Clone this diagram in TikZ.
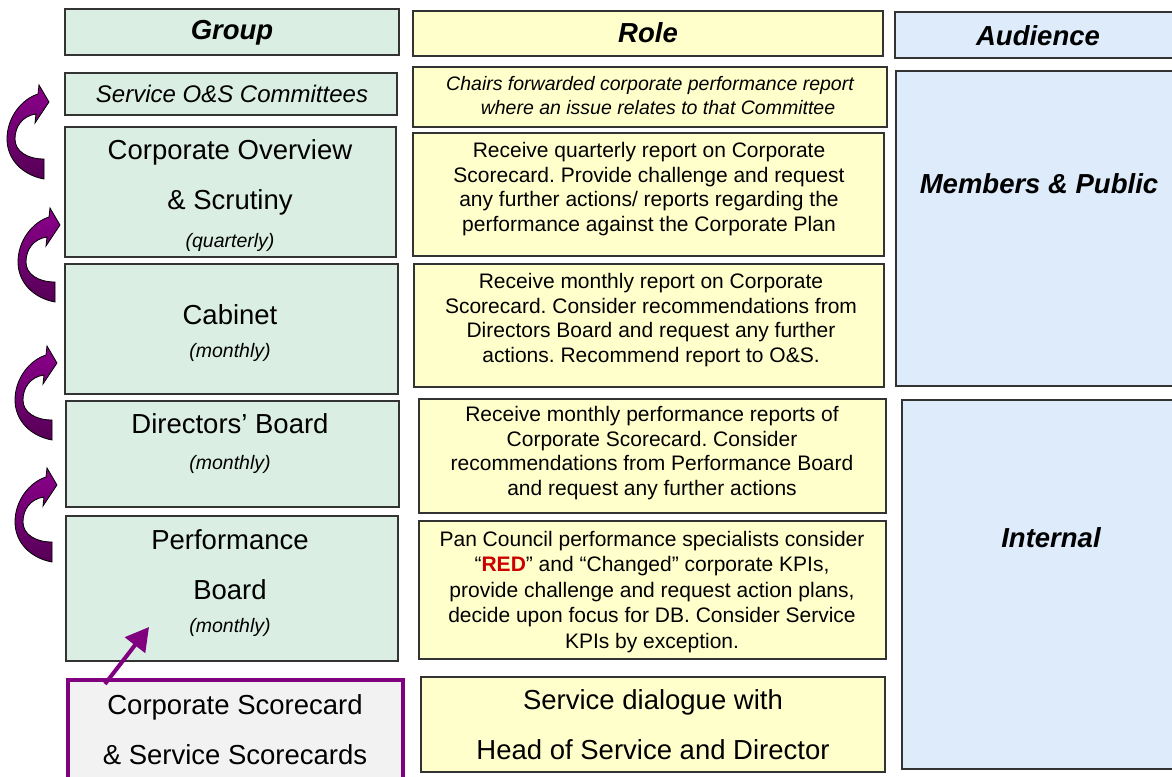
\documentclass[tikz,border=0pt]{standalone}
\usepackage{fontspec}
\setmainfont{Liberation Sans}
\usetikzlibrary{arrows.meta}
\definecolor{grpcol}{HTML}{DAEEE4}
\definecolor{rolecol}{HTML}{FFFFCC}
\definecolor{audcol}{HTML}{DDEBFB}
\definecolor{purp}{HTML}{800080}
\definecolor{arrtop}{HTML}{8C008C}
\definecolor{arrbot}{HTML}{560056}
\definecolor{redtxt}{HTML}{CC0000}
\definecolor{cardfill}{HTML}{F2F2F2}
\frenchspacing
\newcommand\mybox[6]{\node[#2, minimum width={(#5-#3)*1pt}, minimum height={(#6-#4)*1pt}] (#1) at (#3,#4) {};}
\tikzset{
  box/.style={rectangle, draw=black!80, line width=1.3pt, anchor=north west, inner sep=0pt, outer sep=0pt},
  grp/.style={box, fill=grpcol},
  rolebox/.style={box, fill=rolecol},
  aud/.style={box, fill=audcol},
  card/.style={box, draw=purp, line width=3.5pt, fill=cardfill},
  hdr/.style={font=\fontsize{27.5}{33}\selectfont\bfseries\itshape, inner sep=0pt},
  big/.style={font=\fontsize{27.5}{33}\selectfont, inner sep=0pt},
  small/.style={font=\fontsize{19.5}{23}\selectfont\itshape, inner sep=0pt},
  rtext/.style={font=\fontsize{21}{24.6}\selectfont, inner sep=0pt, align=center},
  ritext/.style={font=\fontsize{19.5}{24}\selectfont\itshape, inner sep=0pt, align=center},
  purparrow/.style={draw=purp, line width=4pt, -{Triangle[length=23pt,width=25pt]}},
  curvarr/.pic={
    \path[draw=black, line width=0.8pt, top color=arrtop, bottom color=arrbot]
      (-5,77) .. controls (-27,73) and (-42,57) .. (-42,37)
      .. controls (-42,15) and (-27,-3) .. (-11,-8)
      -- (-10,-17) -- (0,0) -- (-14,21) -- (-13,12)
      .. controls (-27,14) and (-34,25) .. (-34,37)
      .. controls (-34,49) and (-22,57) .. (-5,57) -- cycle;
  }
}
\begin{document}
\begin{tikzpicture}[x=1pt,y=-1pt]
\useasboundingbox (0,0) rectangle (1172,776);
\clip (0,0) rectangle (1172,776);
\fill[white] (0,0) rectangle (1172,776);

% Group column
\mybox{ghead}{grp}{65}{9}{399}{55}
\mybox{sos}{grp}{65}{73}{397}{115}
\mybox{cos}{grp}{65}{127}{396}{257}
\mybox{cab}{grp}{65}{264}{398}{394}
\mybox{dir}{grp}{66}{401}{399}{507}
\mybox{perf}{grp}{66}{516}{398}{661}
\mybox{card}{card}{68}{680}{403}{795}

% Role column
\mybox{rhead}{rolebox}{413}{11}{883}{56}
\mybox{r1}{rolebox}{413}{67}{887}{127}
\mybox{r2}{rolebox}{413}{133}{884}{256}
\mybox{r3}{rolebox}{414}{264}{884}{387}
\mybox{r4}{rolebox}{419}{399}{886}{513}
\mybox{r5}{rolebox}{419}{521}{886}{659}
\mybox{r6}{rolebox}{421}{677}{885}{772}

% Audience column
\mybox{ahead}{aud}{895}{12}{1185}{58}
\mybox{mem}{aud}{896}{71}{1185}{386}
\mybox{int}{aud}{902}{400}{1185}{769}

% Headers
\node[hdr] (tg) at (232,33) {Group};
\node[hdr] (tr) at (648,33) {Role};
\node[hdr] (ta) at (1038,36) {Audience};

% Group texts
\node[big, font=\fontsize{24}{29}\selectfont\itshape] (tsos) at (232,94) {Service O\&S Committees};
\node[big] (tcos1) at (230,152) {Corporate Overview};
\node[big] (tcos2) at (230,202) {\& Scrutiny};
\node[small] (tcos3) at (230,242) {(quarterly)};
\node[big] (tcab1) at (230,315) {Cabinet};
\node[small] (tcab2) at (230,352) {(monthly)};
\node[big] (tdir1) at (230,424) {Directors’ Board};
\node[small] (tdir2) at (230,464) {(monthly)};
\node[big] (tperf1) at (230,540) {Performance};
\node[big] (tperf2) at (230,590) {Board};
\node[small] (tperf3) at (230,627) {(monthly)};
\node[big] (tcard1) at (235,707) {Corporate Scorecard};
\node[big] (tcard2) at (235,755) {\& Service Scorecards};

% Role texts
\node[ritext] (tr1) at (650,96) {Chairs forwarded corporate performance report\\ \hspace*{16pt}where an issue relates to that Committee};
\node[rtext] (tr2) at (649,189) {Receive quarterly report on Corporate\\Scorecard. Provide challenge and request\\any further actions/ reports regarding the\\performance against the Corporate Plan};
\node[rtext] (tr3) at (651,320) {Receive monthly report on Corporate\\Scorecard. Consider recommendations from\\Directors Board and request any further\\actions. Recommend report to O\&S.};
\node[rtext] (tr4) at (652,453) {Receive monthly performance reports of\\Corporate Scorecard. Consider\\recommendations from Performance Board\\and request any further actions};
\node[rtext, font=\fontsize{21}{25.5}\selectfont] (tr5) at (652,592) {Pan Council performance specialists consider\\“\textcolor{redtxt}{\textbf{RED}}” and “Changed” corporate KPIs,\\provide challenge and request action plans,\\decide upon focus for DB. Consider Service\\KPIs by exception.};
\node[big] (tr6a) at (653,702) {Service dialogue with};
\node[big] (tr6b) at (653,750) {Head of Service and Director};

% Audience texts
\node[hdr] (tmem) at (1039,184) {Members \& Public};
\node[hdr] (tint) at (1051,538) {Internal};

% Curved arrows
\pic at (49,102) {curvarr};
\pic at (60,225) {curvarr};
\pic at (57,363) {curvarr};
\pic at (57,485) {curvarr};

% Straight arrow from scorecards to Performance Board
\coordinate (pstart) at (105,684);
\coordinate (pend) at (149,627);
\draw[purparrow] (pstart) -- (pend);
\end{tikzpicture}
\end{document}
